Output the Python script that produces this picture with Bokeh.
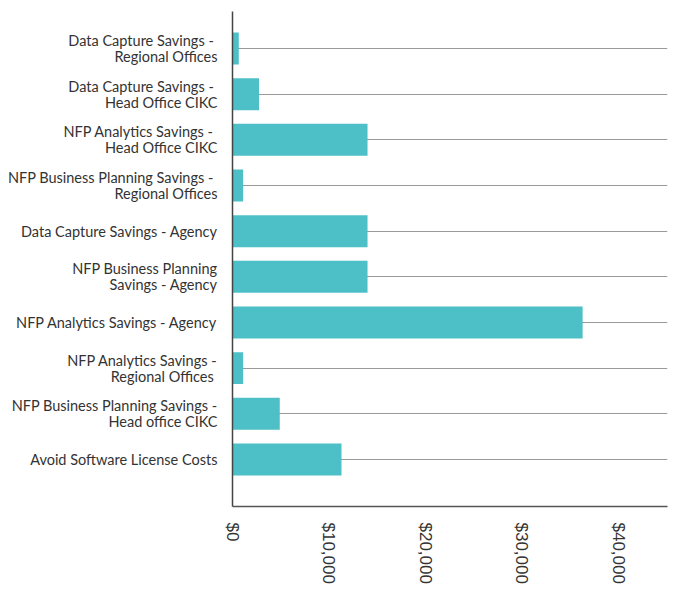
import math
from bokeh.plotting import figure
from bokeh.models import Range1d, FixedTicker, NumeralTickFormatter
from bokeh.embed import file_html
from bokeh.resources import INLINE

categories = [
    "Data Capture Savings - \nRegional Offices",
    "Data Capture Savings - \nHead Office CIKC",
    "NFP Analytics Savings - \nHead Office CIKC",
    "NFP Business Planning Savings - \nRegional Offices",
    "Data Capture Savings - Agency",
    "NFP Business Planning\nSavings - Agency",
    "NFP Analytics Savings - Agency",
    "NFP Analytics Savings -\nRegional Offices ",
    "NFP Business Planning Savings -\nHead office CIKC",
    "Avoid Software License Costs",
]
savings = [650, 2750, 14000, 1100, 14000, 14000, 36300, 1100, 4900, 11300]
x_ticks = [0, 10000, 20000, 30000, 40000]

positions = list(range(len(categories)))

p = figure(
    width=674, height=590,
    output_backend="svg", toolbar_location=None,
    x_range=Range1d(0, 45100),
    y_range=Range1d(len(categories) - 1 + 1.03, -0.81),
    min_border_left=232, min_border_right=7, min_border_top=11, min_border_bottom=84,
)
p.outline_line_color = None
p.background_fill_color = "white"
p.border_fill_color = "white"

p.hbar(y=positions, left=0, right=savings, height=0.7,
       fill_color="#4dbfc6", line_color=None)

# y axis
p.yaxis.ticker = FixedTicker(ticks=positions)
p.yaxis.major_label_overrides = {i: c for i, c in zip(positions, categories)}
p.yaxis.major_tick_line_color = None
p.yaxis.minor_tick_line_color = None
p.yaxis.major_label_standoff = 9
p.yaxis.major_label_text_font = "Lato"
p.yaxis.major_label_text_font_size = "14.5px"
p.yaxis.major_label_text_line_height = 0.95
p.yaxis.major_label_text_color = "#333333"
p.yaxis.axis_line_color = "#444444"
p.yaxis.axis_line_width = 1.5

# x axis
p.xaxis.ticker = FixedTicker(ticks=x_ticks)
p.xaxis.formatter = NumeralTickFormatter(format="$0,0")
p.xaxis.major_label_orientation = -math.pi / 2
p.xaxis.major_tick_line_color = None
p.xaxis.minor_tick_line_color = None
p.xaxis.major_label_standoff = 10
p.xaxis.major_label_text_font = "Liberation Sans"
p.xaxis.major_label_text_font_size = "17px"
p.xaxis.major_label_text_color = "#333333"
p.xaxis.axis_line_color = "#555555"
p.xaxis.axis_line_width = 1.5

# grid
p.xgrid.grid_line_color = None
p.ygrid.grid_line_color = "#999999"
p.ygrid.grid_line_width = 1

open("out.html", "w").write(file_html(p, INLINE))
